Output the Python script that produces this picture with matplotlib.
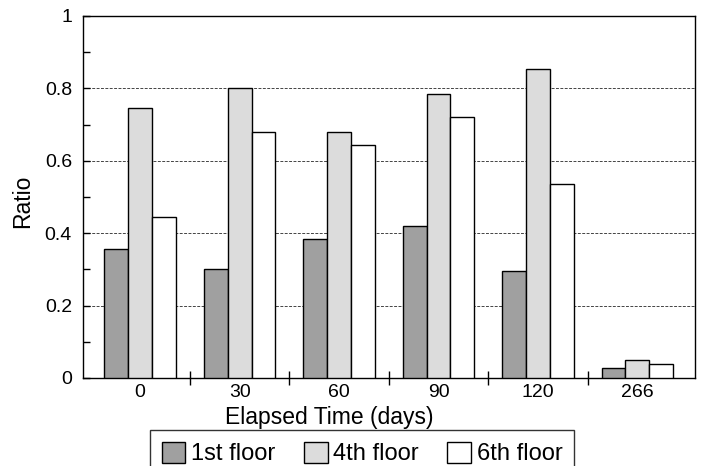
import numpy as np
import matplotlib.pyplot as plt

plt.rcParams['font.family'] = 'sans-serif'
plt.rcParams['font.sans-serif'] = ['Liberation Sans', 'DejaVu Sans']

# data
days = ["0", "30", "60", "90", "120", "266"]
floor_1st = [0.355, 0.300, 0.385, 0.420, 0.295, 0.028]
floor_4th = [0.745, 0.800, 0.680, 0.784, 0.853, 0.051]
floor_6th = [0.445, 0.680, 0.645, 0.722, 0.535, 0.040]
series_names = ["1st floor", "4th floor", "6th floor"]

colors = ["#a0a0a0", "#dcdcdc", "#ffffff"]
width = 0.24

fig = plt.figure(figsize=(7.02, 4.66), dpi=100)
ax = fig.add_axes([83 / 702, 1 - 378 / 466, (695 - 83) / 702, (378 - 16) / 466])

x = np.arange(len(days))
bars = []
for i, (vals, name) in enumerate(zip([floor_1st, floor_4th, floor_6th], series_names)):
    b = ax.bar(x + (i - 1) * width, vals, width, color=colors[i], edgecolor="black",
               linewidth=1.0, label=name, zorder=3)
    bars.append(b)

ax.set_xlim(-0.575, len(days) - 1 + 0.58)
ax.set_ylim(0, 1)

ax.set_yticks([0, 0.2, 0.4, 0.6, 0.8, 1.0])
ax.set_yticklabels(["0", "0.2", "0.4", "0.6", "0.8", "1"])
ax.set_yticks(np.arange(0.1, 1.0, 0.2), minor=True)
ax.tick_params(axis="y", which="both", direction="in", labelsize=14, length=5, width=1, pad=8)

ax.set_xticks(x)
ax.set_xticklabels(days)
ax.set_xticks(x[:-1] + 0.5, minor=True)
ax.tick_params(axis="x", which="major", length=0, labelsize=14, pad=4)
ax.tick_params(axis="x", which="minor", direction="inout", length=10, width=1)

for yv in [0.2, 0.4, 0.6, 0.8]:
    ax.axhline(yv, color="#444444", linestyle=(0, (3, 1.5)), linewidth=0.7, zorder=1)

for s in ax.spines.values():
    s.set_linewidth(1.0)

ax.set_xlabel("Elapsed Time (days)", fontsize=16.5)
ax.xaxis.set_label_coords((329.5 - 83) / 612, -0.077)
ax.set_ylabel("Ratio", fontsize=16.5)
ax.yaxis.set_label_coords((34 - 83) / 612, (378 - 201.5) / 362)

leg = fig.legend(handles=bars, labels=series_names, ncol=3, loc="upper left",
                 bbox_to_anchor=(150 / 702, 1 - 430 / 466), fontsize=17,
                 frameon=True, fancybox=False, edgecolor="black",
                 handlelength=1.0, handleheight=1.0, handletextpad=0.25,
                 columnspacing=1.2, borderpad=0.5, borderaxespad=0)
leg.get_frame().set_linewidth(1.0)

fig.savefig("out.png", dpi=100)
